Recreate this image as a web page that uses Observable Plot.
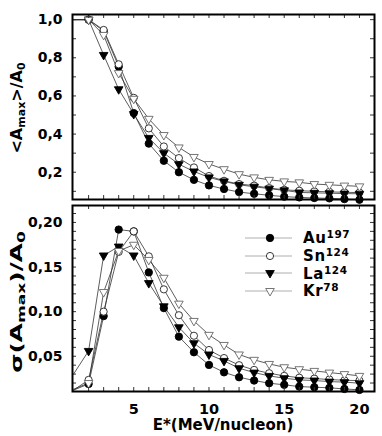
<!DOCTYPE html>
<html>
<head>
<meta charset="utf-8">
<script src="https://cdn.jsdelivr.net/npm/d3@7"></script>
<script src="https://cdn.jsdelivr.net/npm/@observablehq/plot@0.6"></script>
<style>
  body { margin: 0; background: #fff; }
  #wrap { position: relative; width: 382px; height: 436px; overflow: hidden; font-family: "DejaVu Sans", sans-serif; }
  #top, #bot { position: absolute; left: 0; }
  #top { top: 0; }
  #bot { top: 202px; }
  .lab { position: absolute; font-weight: bold; color: #000; white-space: nowrap; }
  .ylab { font-size: 16px; }
  .lab sub { font-size: 11px; vertical-align: -3px; }
  #legend { position: absolute; left: 245px; top: 229px; }
  .lrow { display: flex; align-items: center; height: 17.7px; }
  .lrow span { font-weight: bold; font-size: 15px; margin-left: 11px; line-height: 15px; letter-spacing: 0.6px; }
  .lrow sup { font-size: 10.5px; vertical-align: 5px; line-height: 10px; }
</style>
</head>
<body>
<div id="wrap">
  <div id="top"></div>
  <div id="bot"></div>
  <div class="lab ylab" style="left:17px; top:108px; transform:translate(-50%,-50%) rotate(-90deg);">&lt;A<sub>max</sub>&gt;/A<sub>0</sub></div>
  <div class="lab ylab" style="left:17px; top:302px; transform:translate(-50%,-50%) rotate(-90deg) scaleX(1.55);">σ(A<sub>max</sub>)/A<sub>0</sub></div>
  <div class="lab" style="left:223px; top:425px; transform:translate(-50%,-50%); font-size:15px;">E*(MeV/nucleon)</div>
  <div id="legend"></div>
</div>
<script>
// ---- data ----
const energies = [1,2,3,4,5,6,7,8,9,10,11,12,13,14,15,16,17,18,19,20];
const seriesNames = ["Au", "Sn", "La", "Kr"]; // drawing order
const seriesMass = {Au: "197", Sn: "124", La: "124", Kr: "78"};
const legendOrder = ["Au", "Sn", "La", "Kr"];

const auMean = [1.0, 1.0, 0.94, 0.754, 0.51, 0.35, 0.26, 0.20, 0.16, 0.131, 0.112, 0.096, 0.087, 0.079, 0.072, 0.068, 0.065, 0.063, 0.059, 0.056];
const snMean = [1.0, 1.0, 0.946, 0.766, 0.59, 0.43, 0.335, 0.274, 0.225, 0.18, 0.155, 0.138, 0.13, 0.117, 0.108, 0.103, 0.10, 0.097, 0.095, 0.093];
const laMean = [1.0, 1.0, 0.815, 0.635, 0.505, 0.38, 0.30, 0.242, 0.204, 0.173, 0.152, 0.134, 0.124, 0.114, 0.105, 0.094, 0.092, 0.09, 0.088, 0.087];
const krMean = [1.0, 1.0, 0.92, 0.72, 0.585, 0.48, 0.395, 0.33, 0.28, 0.243, 0.216, 0.19, 0.173, 0.16, 0.152, 0.147, 0.138, 0.134, 0.13, 0.126];

const auSd = [0.012, 0.019, 0.095, 0.192, 0.19, 0.144, 0.104, 0.072, 0.0545, 0.0403, 0.032, 0.0265, 0.0228, 0.0198, 0.018, 0.016, 0.0153, 0.0146, 0.0134, 0.0123];
const snSd = [0.012, 0.0235, 0.10, 0.167, 0.19, 0.162, 0.125, 0.096, 0.073, 0.057, 0.048, 0.040, 0.0347, 0.031, 0.028, 0.026, 0.025, 0.024, 0.023, 0.0228];
const laSd = [0.03, 0.056, 0.163, 0.173, 0.163, 0.132, 0.106, 0.0825, 0.0646, 0.052, 0.0448, 0.0366, 0.0317, 0.028, 0.0254, 0.0235, 0.0228, 0.0216, 0.021, 0.0198];
const krSd = [0.013, 0.02, 0.122, 0.168, 0.175, 0.158, 0.138, 0.109, 0.0896, 0.074, 0.0627, 0.052, 0.046, 0.0414, 0.0377, 0.0355, 0.0336, 0.0317, 0.030, 0.028];

const xTickLabels = [5, 10, 15, 20];
const xMinorTicks = [2,3,4,5,6,7,8,9,10,11,12,13,14,15,16,17,18,19,20];
const topTickLabels = [0.2, 0.4, 0.6, 0.8, 1.0];
const topMinorTicks = [0.1,0.2,0.3,0.4,0.5,0.6,0.7,0.8,0.9,1.0];
const botTickLabels = [0.05, 0.10, 0.15, 0.20];
const botMinorTicks = [0.02,0.03,0.04,0.05,0.06,0.07,0.08,0.09,0.10,0.11,0.12,0.13,0.14,0.15,0.16,0.17,0.18,0.19,0.20,0.21];

// ---- styles ----
const style = {
  Au: {symbol: "circle", fill: "#000", stroke: "#000", r: 3.7, rotate: 0},
  Sn: {symbol: "circle", fill: "#fff", stroke: "#222", r: 3.6, rotate: 0},
  La: {symbol: "triangle", fill: "#000", stroke: "#000", r: 3.2, rotate: 180},
  Kr: {symbol: "triangle", fill: "#fff", stroke: "#666", r: 3.2, rotate: 180}
};

function table(vals) {
  const t = [];
  for (const s of seriesNames) {
    const arr = vals[s];
    energies.forEach((e, i) => t.push({series: s, e, v: arr[i]}));
  }
  return t;
}
const meanTable = table({Au: auMean, Sn: snMean, La: laMean, Kr: krMean});
const sdTable = table({Au: auSd, Sn: snSd, La: laSd, Kr: krSd});

const W = 382;
const ML = 72, MR = 8;
const comma = (d, n) => d.toFixed(n).replace(".", ",");

function panel(data, {height, marginTop, marginBottom, yDomain, yLabels, yMinor, yDigits, showX}) {
  const innerH = height - marginTop - marginBottom;
  const innerW = W - ML - MR;
  const marks = [];
  for (const s of seriesNames) {
    const d = data.filter(r => r.series === s);
    marks.push(Plot.line(d, {x: "e", y: "v", stroke: "#333", strokeWidth: 0.8, clip: true}));
  }
  for (const s of seriesNames) {
    const d = data.filter(r => r.series === s && r.e >= 2);
    const st = style[s];
    marks.push(Plot.dot(d, {x: "e", y: "v", symbol: st.symbol, fill: st.fill, stroke: st.stroke, strokeWidth: 0.9, r: st.r, rotate: st.rotate}));
  }
  // inward ticks
  marks.push(Plot.tickX(xMinorTicks, {x: d => d, stroke: "#333", strokeWidth: 1, insetBottom: innerH - 4}));
  marks.push(Plot.tickX(xMinorTicks, {x: d => d, stroke: "#333", strokeWidth: 1, insetTop: innerH - 4}));
  marks.push(Plot.tickY(yMinor, {y: d => d, stroke: "#333", strokeWidth: 1, insetRight: innerW - 4}));
  marks.push(Plot.tickY(yMinor, {y: d => d, stroke: "#333", strokeWidth: 1, insetLeft: innerW - 4}));
  marks.push(Plot.axisY(yLabels, {tickSize: 0, tickPadding: 10, tickFormat: d => comma(d, yDigits), fontSize: 14, fontWeight: "bold", fill: "#000", label: null}));
  if (showX) {
    marks.push(Plot.axisX(xTickLabels, {tickSize: 0, tickPadding: 12, tickFormat: d => String(d), fontSize: 14.5, fontWeight: "bold", fill: "#000", label: null}));
  } else {
    marks.push(Plot.axisX([], {label: null}));
  }
  marks.push(Plot.frame({stroke: "#000", strokeWidth: 2}));
  return Plot.plot({
    width: W, height, marginLeft: ML, marginRight: MR, marginTop, marginBottom,
    style: {fontFamily: "DejaVu Sans, sans-serif", background: "transparent", overflow: "visible"},
    x: {domain: [0.93, 21]},
    y: {domain: yDomain},
    marks
  });
}

document.getElementById("top").appendChild(panel(meanTable, {
  height: 202, marginTop: 14, marginBottom: 3, yDomain: [0.057, 1.027],
  yLabels: topTickLabels, yMinor: topMinorTicks, yDigits: 1, showX: false
}));
document.getElementById("bot").appendChild(panel(sdTable, {
  height: 234, marginTop: 3, marginBottom: 45, yDomain: [0.0105, 0.219],
  yLabels: botTickLabels, yMinor: botMinorTicks, yDigits: 2, showX: true
}));

// legend
const leg = document.getElementById("legend");
for (const s of legendOrder) {
  const st = style[s];
  const row = document.createElement("div");
  row.className = "lrow";
  const sz = Math.PI * st.r * st.r;
  const path = d3.symbol(st.symbol === "circle" ? d3.symbolCircle : d3.symbolTriangle, sz)();
  row.innerHTML = `<svg width="47" height="12"><line x1="0" x2="47" y1="6" y2="6" stroke="#999" stroke-width="0.8"/>` +
    `<path d="${path}" transform="translate(25,6) rotate(${st.rotate})" fill="${st.fill}" stroke="${st.stroke}" stroke-width="0.9"/></svg>` +
    `<span>${s}<sup>${seriesMass[s]}</sup></span>`;
  leg.appendChild(row);
}
</script>
</body>
</html>
